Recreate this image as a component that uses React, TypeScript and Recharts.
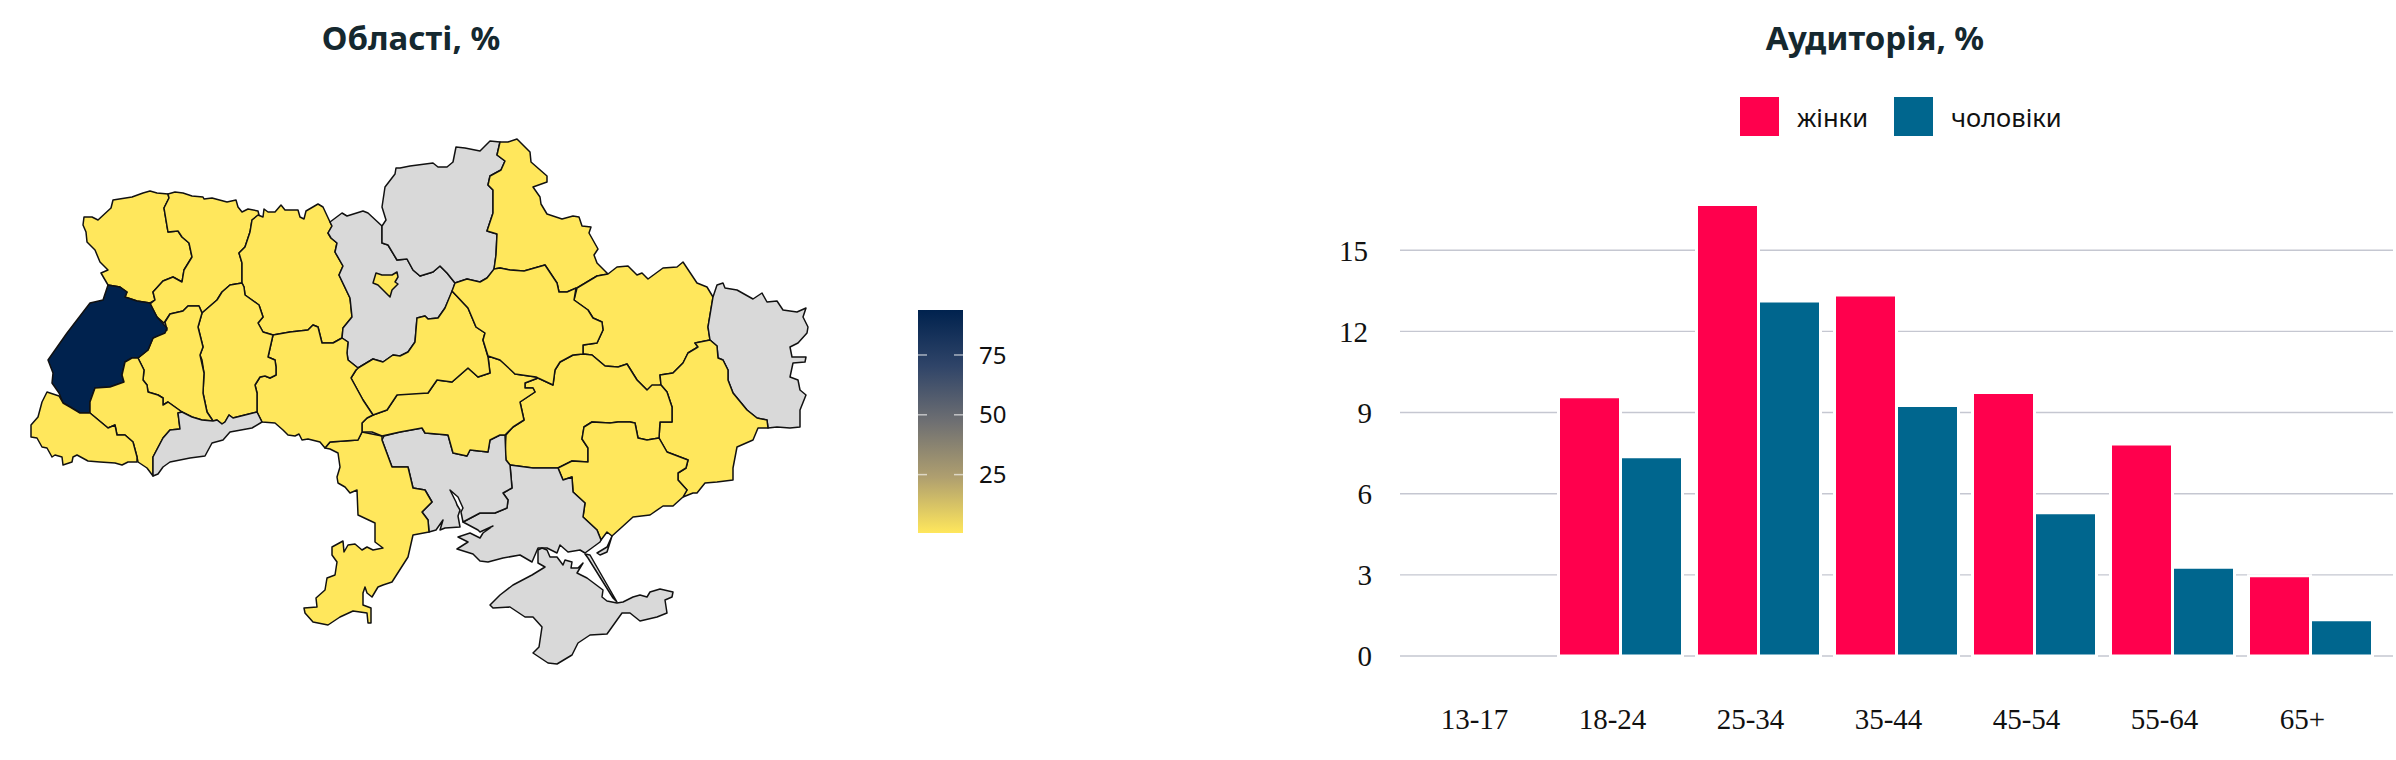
import React from "react";
import { BarChart, Bar, XAxis, YAxis, CartesianGrid, Legend, ScatterChart, Scatter, Polygon, ComposedChart, Area, ReferenceLine } from "recharts";

const ageGroups = ["13-17", "18-24", "25-34", "35-44", "45-54", "55-64", "65+"];
const women = [0, 9.58, 16.69, 13.35, 9.74, 7.84, 2.97];
const men = [0, 7.37, 13.12, 9.26, 5.3, 3.28, 1.34];
const audienceTicks = [0, 3, 6, 9, 12, 15];
const scaleTicks = [25, 50, 75];
const scaleRange = [0.6, 93.8];

type P = number[][];
const volyn: P = [[83,225],[84,217],[92,217],[98,220],[111,208],[113,200],[132,197],[143,193],[150,191],[157,193],[168,194],[169,198],[164,208],[166,220],[168,232],[178,231],[182,237],[189,243],[192,257],[184,270],[182,282],[173,277],[163,281],[153,292],[155,300],[150,303],[137,301],[125,297],[127,292],[120,287],[108,285],[101,273],[108,270],[100,262],[95,250],[87,242],[86,232]];
const rivne: P = [[168,194],[175,192],[183,193],[192,196],[203,197],[204,199],[212,198],[227,202],[236,200],[238,207],[242,212],[248,209],[258,211],[259,215],[252,220],[250,232],[245,247],[239,253],[242,263],[242,283],[230,285],[222,292],[217,300],[202,313],[199,306],[188,306],[183,311],[170,314],[164,323],[157,317],[150,304],[155,300],[153,292],[163,281],[173,277],[182,282],[184,270],[192,257],[189,243],[182,237],[178,231],[168,232],[166,220],[164,208],[169,198]];
const zhytomyr: P = [[258,215],[263,217],[264,209],[268,212],[275,212],[281,205],[285,210],[298,210],[300,217],[304,219],[306,211],[318,204],[323,207],[330,222],[332,226],[328,233],[331,238],[337,243],[335,252],[343,266],[339,275],[350,298],[352,317],[343,328],[342,338],[333,343],[322,343],[318,327],[313,325],[308,330],[290,332],[273,335],[263,332],[258,323],[263,317],[259,305],[245,295],[244,287],[242,283],[242,263],[239,253],[245,247],[250,232],[252,220]];
const kyivOblast: P = [[330,222],[342,213],[347,216],[363,211],[368,213],[382,226],[382,243],[388,245],[397,260],[407,259],[413,270],[420,276],[433,272],[440,266],[447,273],[455,283],[453,290],[445,308],[438,318],[428,319],[425,316],[417,318],[415,342],[408,352],[400,356],[393,355],[383,362],[373,359],[363,365],[358,368],[348,360],[347,353],[348,342],[342,338],[343,328],[352,317],[350,298],[339,275],[343,266],[335,252],[337,243],[331,238],[328,233],[332,226]];
const kyivCity: P = [[373,283],[376,273],[382,275],[392,275],[397,272],[398,277],[395,282],[398,284],[392,290],[390,297],[385,292],[378,285]];
const chernihiv: P = [[382,226],[386,220],[382,207],[385,187],[395,174],[396,168],[400,168],[410,166],[433,163],[438,167],[447,167],[453,162],[456,147],[465,148],[480,151],[490,141],[500,142],[497,155],[505,161],[501,170],[490,176],[488,185],[493,190],[493,213],[487,231],[497,234],[496,255],[494,270],[487,278],[480,282],[467,279],[455,283],[447,273],[440,266],[433,272],[420,276],[413,270],[407,259],[397,260],[388,245],[382,243]];
const sumy: P = [[500,142],[508,142],[517,139],[530,152],[531,162],[547,176],[547,182],[533,187],[540,197],[541,204],[547,214],[562,219],[573,216],[579,217],[582,226],[591,227],[589,233],[598,249],[594,255],[597,263],[608,274],[597,276],[577,288],[567,292],[559,292],[557,283],[545,265],[538,267],[524,271],[510,270],[500,268],[494,269],[496,255],[497,234],[487,231],[493,213],[493,190],[488,185],[490,176],[501,170],[505,161],[497,155]];
const kharkiv: P = [[577,288],[597,276],[608,274],[617,267],[628,266],[637,275],[642,273],[648,279],[663,268],[677,267],[683,262],[697,283],[707,287],[713,297],[708,327],[710,340],[695,343],[698,347],[688,353],[683,363],[673,373],[660,375],[661,385],[647,390],[637,380],[627,364],[618,367],[605,366],[592,355],[583,354],[583,345],[597,343],[603,330],[602,322],[593,318],[588,310],[574,300]];
const luhansk: P = [[713,297],[717,285],[723,283],[725,288],[737,290],[753,299],[762,293],[767,302],[777,301],[783,310],[797,312],[806,308],[803,317],[808,327],[807,333],[798,343],[790,347],[792,357],[806,357],[805,362],[793,363],[790,377],[798,380],[800,390],[806,395],[800,410],[800,427],[790,428],[777,427],[768,428],[767,420],[757,418],[747,410],[733,393],[728,380],[728,370],[723,360],[718,358],[717,346],[710,340],[708,327]];
const donetsk: P = [[660,375],[661,385],[667,392],[672,407],[672,422],[660,422],[659,438],[667,452],[688,460],[686,468],[678,473],[678,480],[687,490],[683,497],[693,493],[697,493],[705,483],[717,482],[733,480],[733,468],[737,447],[753,440],[758,428],[768,428],[767,420],[757,418],[747,410],[733,393],[728,380],[728,370],[723,360],[718,358],[717,346],[710,340],[695,343],[698,347],[688,353],[683,363],[673,373]];
const dnipro: P = [[538,378],[553,385],[555,370],[560,362],[573,355],[583,354],[592,355],[605,366],[618,367],[627,364],[637,380],[647,390],[652,385],[661,385],[667,392],[672,407],[672,422],[660,422],[659,438],[647,440],[638,438],[635,423],[630,422],[618,422],[610,423],[592,422],[584,427],[582,439],[588,448],[588,462],[572,461],[558,468],[533,468],[510,465],[506,460],[505,453],[506,435],[513,427],[524,420],[520,402],[535,392],[533,388],[525,388],[525,383]];
const zaporizhzhia: P = [[558,468],[572,461],[588,462],[588,448],[582,439],[584,427],[592,422],[610,423],[618,422],[630,422],[635,423],[638,438],[647,440],[659,438],[667,452],[688,460],[686,468],[678,473],[678,480],[687,490],[683,497],[673,506],[663,506],[650,515],[633,517],[622,527],[612,536],[607,532],[601,540],[597,530],[583,517],[585,503],[573,492],[572,477],[563,480]];
const kherson: P = [[558,468],[533,468],[510,465],[512,488],[503,493],[508,500],[507,508],[495,513],[480,513],[463,522],[478,530],[480,532],[493,526],[483,533],[480,538],[470,533],[458,537],[468,542],[457,549],[473,554],[480,561],[488,562],[503,558],[520,555],[532,562],[538,548],[547,548],[557,553],[560,545],[568,552],[580,550],[585,553],[600,542],[601,540],[597,530],[583,517],[585,503],[573,492],[572,477],[563,480]];
const mykolaiv: P = [[382,440],[384,436],[400,432],[422,428],[425,433],[448,435],[453,453],[467,456],[470,450],[488,452],[490,440],[500,435],[505,435],[506,460],[510,465],[512,488],[503,493],[508,500],[507,508],[495,513],[480,513],[463,522],[461,512],[463,508],[458,497],[450,490],[456,502],[457,505],[460,510],[458,516],[460,527],[445,528],[440,530],[443,520],[436,530],[429,532],[428,520],[422,512],[432,502],[425,490],[413,488],[408,467],[392,467]];
const odesa: P = [[325,448],[330,442],[358,440],[362,432],[382,436],[382,440],[392,467],[408,467],[413,488],[425,490],[432,502],[422,512],[428,520],[429,532],[413,535],[408,557],[392,582],[383,585],[378,587],[372,597],[367,593],[365,587],[363,593],[363,605],[371,608],[371,623],[368,623],[367,613],[353,611],[340,617],[328,625],[313,622],[305,613],[304,608],[317,607],[316,598],[325,590],[327,578],[335,575],[337,562],[332,555],[332,547],[343,541],[344,552],[348,545],[355,544],[362,550],[367,547],[373,550],[383,548],[375,542],[375,523],[358,515],[357,490],[350,493],[345,487],[338,483],[337,477],[340,467],[338,453],[330,449]];
const kirovohrad: P = [[362,423],[367,418],[373,415],[387,410],[397,395],[400,393],[428,393],[437,380],[452,382],[468,368],[478,377],[490,373],[488,356],[500,360],[510,368],[515,374],[536,377],[538,378],[525,383],[525,388],[533,388],[535,392],[520,402],[524,420],[513,427],[505,435],[500,435],[490,440],[488,452],[470,450],[467,456],[453,453],[448,435],[425,433],[422,428],[400,432],[382,436],[372,432],[362,432]];
const cherkasy: P = [[358,368],[363,365],[373,359],[383,362],[393,355],[400,356],[408,352],[415,342],[417,318],[425,316],[428,319],[438,318],[445,308],[452,291],[468,308],[476,327],[485,333],[483,340],[488,357],[490,373],[478,377],[468,368],[452,382],[437,380],[428,393],[397,395],[387,410],[373,415],[363,400],[351,378],[356,370]];
const poltava: P = [[452,291],[455,283],[467,279],[480,282],[487,278],[494,269],[500,268],[510,270],[524,271],[538,267],[545,265],[557,283],[559,292],[567,292],[576,288],[574,300],[588,310],[593,318],[602,322],[603,330],[597,343],[583,345],[583,354],[573,355],[560,362],[555,370],[553,385],[538,378],[536,377],[515,374],[500,360],[488,356],[483,340],[485,333],[476,327],[468,308]];
const vinnytsia: P = [[273,335],[290,332],[308,330],[313,325],[318,327],[322,343],[333,343],[342,338],[348,342],[347,353],[348,360],[358,368],[356,370],[351,378],[363,400],[373,415],[367,418],[362,423],[362,432],[358,440],[330,442],[325,448],[320,442],[308,439],[302,440],[299,434],[295,436],[288,435],[283,430],[275,423],[262,422],[257,412],[257,393],[255,385],[260,377],[265,376],[270,378],[276,375],[276,367],[275,360],[268,357]];
const khmelnytskyi: P = [[202,313],[217,300],[222,292],[230,285],[242,283],[244,287],[245,295],[259,305],[263,317],[258,323],[263,332],[273,335],[268,357],[275,360],[276,367],[276,375],[270,378],[265,376],[260,377],[255,385],[257,393],[257,412],[245,415],[233,418],[229,415],[225,422],[222,424],[217,420],[213,421],[207,412],[203,393],[204,373],[202,360],[200,355],[203,347],[198,327]];
const ternopil: P = [[165,322],[170,314],[183,311],[188,306],[199,306],[202,313],[198,327],[203,347],[200,355],[204,373],[203,393],[207,412],[213,421],[202,420],[192,417],[182,412],[168,402],[163,405],[163,398],[158,395],[148,392],[147,385],[143,380],[144,370],[138,358],[148,350],[153,338],[167,330]];
const lviv: P = [[108,285],[120,287],[127,292],[125,297],[137,301],[150,303],[157,317],[167,328],[165,333],[153,338],[148,350],[138,358],[132,358],[125,362],[122,375],[124,382],[110,387],[95,388],[90,402],[90,413],[80,413],[70,407],[63,403],[59,393],[52,383],[53,373],[48,360],[67,333],[90,303],[103,300]];
const ivanoFrankivsk: P = [[138,358],[132,358],[125,362],[122,375],[124,382],[110,387],[95,388],[90,402],[90,413],[108,428],[115,425],[117,435],[125,435],[133,442],[137,457],[138,462],[147,468],[153,476],[153,457],[163,438],[170,430],[180,429],[178,413],[182,412],[168,402],[163,405],[163,398],[158,395],[148,392],[147,385],[143,380],[144,370]];
const zakarpattia: P = [[47,392],[59,396],[63,403],[70,407],[80,413],[90,413],[108,428],[115,425],[117,435],[125,435],[133,442],[137,457],[137,462],[128,462],[122,465],[115,463],[100,462],[88,461],[77,455],[73,457],[72,462],[63,465],[62,457],[55,455],[52,457],[47,448],[42,447],[37,438],[31,437],[31,425],[38,417],[42,402]];
const chernivtsi: P = [[182,412],[192,417],[202,420],[213,421],[217,420],[222,424],[225,422],[229,415],[233,418],[245,415],[257,412],[262,422],[252,428],[230,432],[223,440],[212,443],[205,456],[190,458],[170,462],[163,467],[158,474],[153,476],[153,457],[163,438],[170,430],[180,429],[178,413]];
const crimea: P = [[490,605],[500,595],[513,585],[532,575],[545,567],[538,563],[538,550],[542,548],[547,550],[550,557],[557,557],[563,565],[565,560],[572,562],[571,568],[578,568],[583,563],[577,573],[587,578],[603,590],[602,597],[607,601],[617,603],[623,602],[633,597],[640,595],[647,597],[650,592],[660,589],[673,592],[672,597],[665,600],[667,613],[657,617],[640,621],[630,613],[622,613],[607,634],[590,635],[578,643],[572,655],[557,664],[548,663],[533,653],[539,647],[542,627],[533,617],[525,617],[510,607],[493,608]];
const arabatSpit: P = [[585,554],[590,555],[617,602],[613,598],[588,558]];
const fedotovaSpit: P = [[597,553],[607,547],[612,536],[607,552],[600,555]];

const regions: { name: string; value: number | null; points: P }[] = [
  { name: "Волинська", value: 1, points: volyn },
  { name: "Рівненська", value: 1, points: rivne },
  { name: "Житомирська", value: 1, points: zhytomyr },
  { name: "Київська", value: null, points: kyivOblast },
  { name: "Чернігівська", value: null, points: chernihiv },
  { name: "Сумська", value: 1, points: sumy },
  { name: "Харківська", value: 1, points: kharkiv },
  { name: "Луганська", value: null, points: luhansk },
  { name: "Донецька", value: 1, points: donetsk },
  { name: "Дніпропетровська", value: 1, points: dnipro },
  { name: "Запорізька", value: 1, points: zaporizhzhia },
  { name: "Херсонська", value: null, points: kherson },
  { name: "Миколаївська", value: null, points: mykolaiv },
  { name: "Одеська", value: 1, points: odesa },
  { name: "Кіровоградська", value: 1, points: kirovohrad },
  { name: "Черкаська", value: 1, points: cherkasy },
  { name: "Полтавська", value: 1, points: poltava },
  { name: "Вінницька", value: 1, points: vinnytsia },
  { name: "Хмельницька", value: 1, points: khmelnytskyi },
  { name: "Тернопільська", value: 1, points: ternopil },
  { name: "Львівська", value: 93, points: lviv },
  { name: "Івано-Франківська", value: 1, points: ivanoFrankivsk },
  { name: "Закарпатська", value: 1, points: zakarpattia },
  { name: "Чернівецька", value: null, points: chernivtsi },
  { name: "Крим", value: null, points: crimea },
  { name: "Арабатська стрілка", value: null, points: arabatSpit },
  { name: "Федотова коса", value: null, points: fedotovaSpit },
  { name: "Київ", value: 1, points: kyivCity },
];

const low = "#FFE75C";
const high = "#00224E";
const fillFor = (v: number | null) => (v === null ? "#D9D9D9" : v > 50 ? high : low);

const audienceData = ageGroups.map((age, i) => ({ age, women: women[i], men: men[i] }));
const scaleData = [0, 1].map((x) => ({ x, range: scaleRange }));
const serifTick = { fontFamily: "'Liberation Serif'", fontSize: 29, fill: "#111" };
const titleStyle: React.CSSProperties = {
  position: "absolute", top: 14, width: 600, textAlign: "center",
  fontFamily: "'Noto Sans'", fontWeight: 700, fontSize: 33, lineHeight: "48px", color: "#15282F",
};

const LegendContent = (props: any) => (
  <div style={{ display: "flex", alignItems: "center", fontFamily: "'Noto Sans'", fontSize: 25.5, color: "#111" }}>
    {(props.payload || []).map((item: any, i: number) => (
      <div key={i} style={{ display: "flex", alignItems: "center", marginRight: i === 0 ? 26 : 0 }}>
        <div style={{ width: 39, height: 39, background: item.color, marginRight: 18 }} />
        <span>{item.value}</span>
      </div>
    ))}
  </div>
);

const AudienceTick = (p: any) => (
  <text x={p.x - (String(p.payload.value).length > 1 ? 4 : 0)} y={p.y} dy="0.36em" textAnchor="end" {...serifTick}>
    {p.payload.value}
  </text>
);

export default function App() {
  return (
    <div style={{ position: "absolute", left: 0, top: 0, width: 2396, height: 760, background: "#fff", overflow: "hidden" }}>
      <div style={{ ...titleStyle, left: 111 }}>Області, %</div>
      <div style={{ ...titleStyle, left: 1575 }}>Аудиторія, %</div>

      <div style={{ position: "absolute", left: 0, top: 0 }}>
        <ScatterChart width={900} height={760} margin={{ top: 0, right: 0, bottom: 0, left: 0 }}>
          <XAxis type="number" dataKey="x" domain={[0, 900]} hide />
          <YAxis type="number" dataKey="y" domain={[0, 760]} reversed hide />
          {regions.map((r) => (
            <Scatter
              key={r.name}
              name={r.name}
              data={r.points.map(([x, y]) => ({ x, y }))}
              isAnimationActive={false}
              shape={() => <g />}
              line={(p: any) => (
                <Polygon points={p.points} fill={fillFor(r.value)} stroke="#111" strokeWidth={1.5} strokeLinejoin="round" />
              )}
            />
          ))}
        </ScatterChart>
      </div>

      <div style={{ position: "absolute", left: 0, top: 0 }}>
        <BarChart
          width={2396}
          height={760}
          data={audienceData}
          barSize={62}
          barGap={0}
          margin={{ top: 169.1, right: 3, bottom: 0, left: 1340 }}
        >
          <CartesianGrid vertical={false} horizontalValues={audienceTicks} stroke="#C5C7D1" strokeWidth={1.4} />
          <XAxis
            dataKey="age"
            height={104}
            padding={{ left: 13.5, right: 13.5 }}
            axisLine={false}
            tickLine={false}
            tickSize={0}
            tickMargin={52}
            interval={0}
            tick={{ ...serifTick, dx: -8 }}
          />
          <YAxis
            width={60}
            domain={[0, 18]}
            ticks={audienceTicks}
            axisLine={false}
            tickLine={false}
            tickSize={0}
            tickMargin={28}
            tick={<AudienceTick />}
          />
          <Legend
            layout="horizontal"
            verticalAlign="middle"
            wrapperStyle={{ left: 1740, top: 97, width: 400, height: 39 }}
            content={<LegendContent />}
          />
          <Bar dataKey="women" name="жінки" fill="#FF004D" stroke="#fff" strokeWidth={3} isAnimationActive={false} />
          <Bar dataKey="men" name="чоловіки" fill="#00668E" stroke="#fff" strokeWidth={3} isAnimationActive={false} />
        </BarChart>
      </div>

      <div style={{ position: "absolute", left: 918, top: 310 }}>
        <ComposedChart width={110} height={223} data={scaleData} margin={{ top: 0, right: 0, bottom: 0, left: 0 }}>
          <defs>
            <linearGradient id="scale" x1="0" y1="0" x2="0" y2="1">
              <stop offset="0%" stopColor="#00224E" />
              <stop offset="25%" stopColor="#2F4468" />
              <stop offset="50%" stopColor="#6E6F72" />
              <stop offset="75%" stopColor="#AF9F6F" />
              <stop offset="100%" stopColor="#FFE75C" />
            </linearGradient>
          </defs>
          <XAxis type="number" dataKey="x" domain={[0, 1]} hide />
          <YAxis
            orientation="right"
            width={65}
            type="number"
            domain={scaleRange}
            ticks={scaleTicks}
            axisLine={false}
            tickLine={false}
            tickSize={0}
            tickMargin={16}
            tick={{ fontFamily: "'Noto Sans'", fontSize: 24, fill: "#111" }}
          />
          <Area dataKey="range" type="linear" fill="url(#scale)" fillOpacity={1} stroke="none" dot={false} activeDot={false} isAnimationActive={false} />
          {scaleTicks.map((t) => (
            <ReferenceLine key={`l${t}`} segment={[{ x: 0, y: t }, { x: 0.2, y: t }]} stroke="#ffffff" strokeOpacity={0.6} strokeWidth={1.5} />
          ))}
          {scaleTicks.map((t) => (
            <ReferenceLine key={`r${t}`} segment={[{ x: 0.8, y: t }, { x: 1, y: t }]} stroke="#ffffff" strokeOpacity={0.6} strokeWidth={1.5} />
          ))}
        </ComposedChart>
      </div>
    </div>
  );
}
